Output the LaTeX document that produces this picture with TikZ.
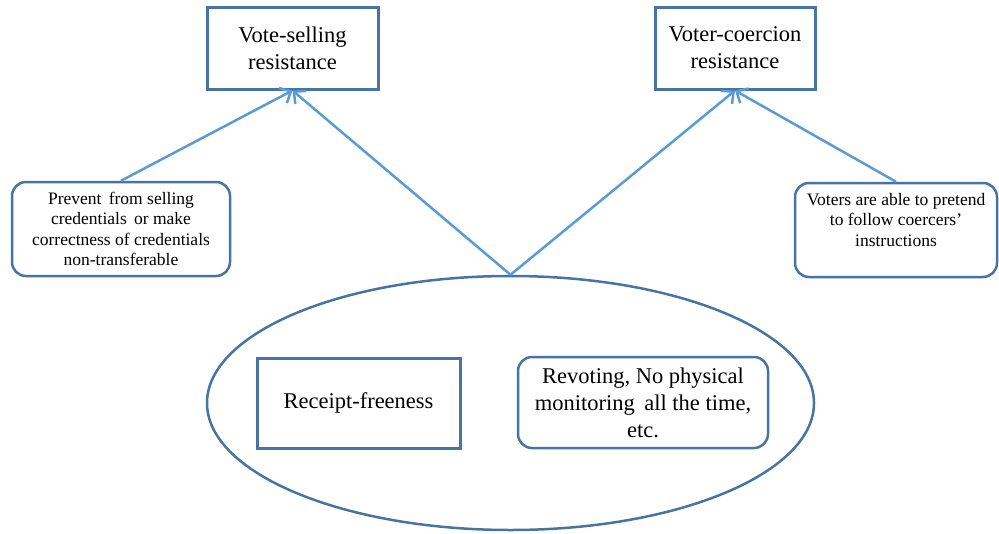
\documentclass[tikz,border=0pt]{standalone}
\usepackage{fontspec}
\setmainfont{Liberation Serif}
\usetikzlibrary{shapes.geometric,arrows.meta}
\definecolor{bord}{RGB}{70,116,164}
\definecolor{arr}{RGB}{91,155,213}
\begin{document}
\begin{tikzpicture}[x=1pt,y=-1pt,
  box/.style={draw=bord,line width=3pt,align=center,inner sep=0pt,font=\fontsize{22.5}{27}\selectfont},
  rbox/.style={box,rounded corners=14pt,line width=2.5pt},
  small/.style={rbox,font=\fontsize{17.5}{20.5}\selectfont},
  link/.style={draw=arr,line width=2.5pt,-{Straight Barb[length=9pt,width=17pt]}}]
\useasboundingbox (0,0) rectangle (999,533);
\node[box,minimum width=171pt,minimum height=82pt] (vs) at (292.5,48) {Vote-selling\\resistance};
\node[box,minimum width=160pt,minimum height=82pt] (vc) at (735,48) {Voter-coercion\\resistance};
\node[small,minimum width=218pt,minimum height=94pt] (lb) at (121,229) {Prevent\, from selling\\credentials\, or make\\correctness of credentials\\non-transferable};
\node[small,minimum width=202pt,minimum height=94pt] (rb) at (896,230) {Voters are able to pretend\\to follow coercers'\\instructions\\\mbox{}};
\node[draw=bord,line width=2.5pt,ellipse,inner sep=0pt,minimum width=607pt,minimum height=254pt] (ell) at (510.5,403) {};
\node[box,minimum width=203pt,minimum height=90pt] (rf) at (358.5,403) {Receipt-freeness};
\node[rbox,minimum width=250pt,minimum height=91pt] (rv) at (643,402.5) {Revoting, No physical\\monitoring\, all the time,\\etc.};
\draw[link] (ell.north) -- (vs.south);
\draw[link] (ell.north) -- (vc.south);
\draw[link] (lb.north) -- (vs.south);
\draw[link] (rb.north) -- (vc.south);
\end{tikzpicture}
\end{document}
